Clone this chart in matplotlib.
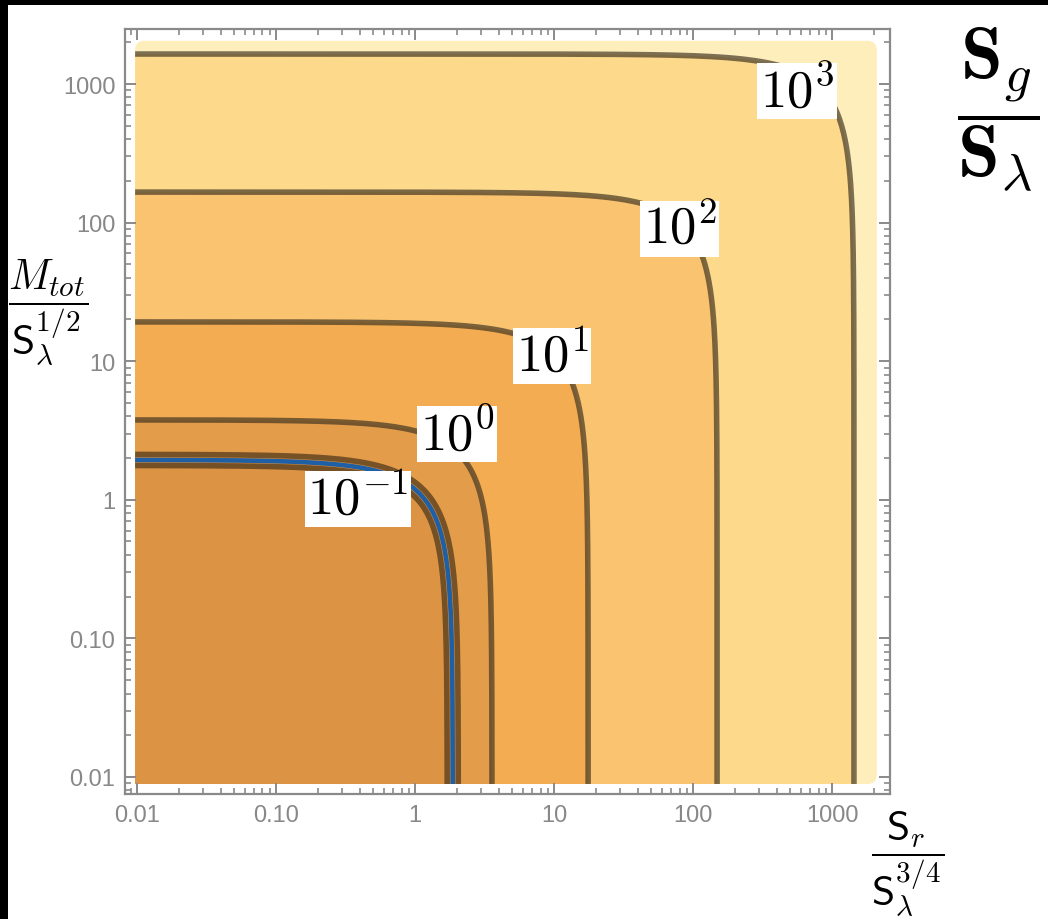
import numpy as np
import matplotlib
matplotlib.use("Agg")
import matplotlib.pyplot as plt
from matplotlib.patches import Rectangle, FancyBboxPatch
from matplotlib.ticker import LogLocator, FixedLocator, FixedFormatter, NullFormatter

plt.rcParams['font.family'] = ['Liberation Sans', 'DejaVu Sans']
plt.rcParams['mathtext.fontset'] = 'cm'

# niveles de Sg/Sl y donde cada curva se vuelve horizontal (b) y vertical (a)
niveles = [-1, 0, 1, 2, 3]
asintota_x = [1.87, 3.58, 17.6, 149.0, 1438.0]
asintota_y = [1.94, 3.77, 19.2, 166.0, 1646.0]
colores = ["#DC9444", "#E39C4A", "#F3AC52", "#FAC36F", "#FDD98B"]
color_fondo = "#FEEEBB"

# posicion de las etiquetas de cada curva
etiqueta_x = [0.39, 2.0, 9.7, 80.5, 560.0]
etiqueta_y = [1.01, 2.98, 10.9, 90.0, 891.0]

# curva azul sobre el nivel 10^-1
azul_a = 1.87
azul_b = 1.94

# dominio graficado y limites de los ejes
dominio_x = [0.0097, 2100.0]
dominio_y = [0.0089, 2050.0]
lim_x = [10**-2.086, 10**3.417]
lim_y = [10**-2.123, 10**3.397]

ticks = [0.01, 0.1, 1, 10, 100, 1000]
ticks_txt = ["0.01", "0.10", "1", "10", "100", "1000"]

P = 1.25


def curva(a, b):
    # mitad horizontal y mitad vertical de (x/a)^P + (y/b)^P = 1
    xc = a * 2 ** (-1 / P)
    yc = b * 2 ** (-1 / P)
    x1 = np.logspace(np.log10(dominio_x[0]), np.log10(xc), 200)
    y1 = b * (1 - (x1 / a) ** P) ** (1 / P)
    y2 = np.logspace(np.log10(yc), np.log10(dominio_y[0]), 200)
    x2 = a * (1 - (y2 / b) ** P) ** (1 / P)
    return np.concatenate([x1, x2]), np.concatenate([y1, y2])


fig = plt.figure(figsize=(10.48, 9.2), dpi=100)
ax = fig.add_axes([125 / 1048, 125 / 920, 765 / 1048, 765 / 920])
ax.set_xscale("log")
ax.set_yscale("log")
ax.set_xlim(lim_x)
ax.set_ylim(lim_y)

# fondo del dominio con esquinas redondeadas
t = ax.transData + ax.transAxes.inverted()
(x0, y0), (x1, y1) = t.transform([[dominio_x[0], dominio_y[0]], [dominio_x[1], dominio_y[1]]])
fondo = FancyBboxPatch((x0, y0), x1 - x0, y1 - y0, boxstyle="round,pad=0,rounding_size=0.012",
                       transform=ax.transAxes, fc=color_fondo, ec="none", zorder=0)
ax.add_patch(fondo)

# regiones rellenas, de la mas grande a la mas chica
for i in reversed(range(len(niveles))):
    cx, cy = curva(asintota_x[i], asintota_y[i])
    ax.fill(np.append(cx, dominio_x[0]), np.append(cy, dominio_y[0]), color=colores[i], lw=0, zorder=1)

# lineas de contorno
for i in range(len(niveles)):
    cx, cy = curva(asintota_x[i], asintota_y[i])
    if niveles[i] == -1:
        ax.plot(cx, cy, color="#4a3318", lw=12, alpha=0.7, solid_capstyle="butt", zorder=2)
        ax.plot(cx, cy, color="#D8923F", lw=4, solid_capstyle="butt", zorder=3)
    else:
        ax.plot(cx, cy, color="#3e3320", lw=4, alpha=0.68, solid_capstyle="butt", zorder=2)

bx, by = curva(azul_a, azul_b)
ax.plot(bx, by, color="#1f5fa6", lw=3.3, solid_capstyle="butt", zorder=4)

for i in range(len(niveles)):
    ax.text(etiqueta_x[i], etiqueta_y[i], r"$10^{%d}$" % niveles[i], fontsize=38,
            ha="center", va="center", zorder=6,
            bbox=dict(fc="white", ec="none", pad=2))

# ejes al estilo mathematica
for s in ax.spines.values():
    s.set_color("#8a8a8a")
    s.set_linewidth(1.6)
ax.xaxis.set_major_locator(FixedLocator(ticks))
ax.yaxis.set_major_locator(FixedLocator(ticks))
ax.xaxis.set_major_formatter(FixedFormatter(ticks_txt))
ax.yaxis.set_major_formatter(FixedFormatter(ticks_txt))
ax.xaxis.set_minor_locator(LogLocator(base=10, subs=np.arange(2, 10), numticks=20))
ax.yaxis.set_minor_locator(LogLocator(base=10, subs=np.arange(2, 10), numticks=20))
ax.xaxis.set_minor_formatter(NullFormatter())
ax.yaxis.set_minor_formatter(NullFormatter())
ax.tick_params(which="both", direction="in", top=True, right=True, color="#8a8a8a",
               labelcolor="#888888", labelsize=17)
ax.tick_params(which="major", length=8, width=1.4, pad=7)
ax.tick_params(which="minor", length=4, width=1.2)

fig.text(48 / 1048, 1 - 312 / 920, r"$\dfrac{M_{tot}}{\mathsf{S}_{\lambda}^{1/2}}$",
         fontsize=30, ha="center", va="center")
fig.text(908 / 1048, 1 - 864 / 920, r"$\dfrac{\mathsf{S}_{r}}{\mathsf{S}_{\lambda}^{3/4}}$",
         fontsize=30, ha="center", va="center")
fig.text(998 / 1048, 1 - 110 / 920, r"$\dfrac{\mathbf{S}_{g}}{\mathbf{S}_{\lambda}}$",
         fontsize=54, ha="center", va="center")

# franjas negras del borde
fig.patches.append(Rectangle((0, 1 - 6 / 920), 1, 6 / 920, transform=fig.transFigure, fc="black", ec="none"))
fig.patches.append(Rectangle((0, 0), 8 / 1048, 1, transform=fig.transFigure, fc="black", ec="none"))

fig.savefig("out.png", dpi=100)
